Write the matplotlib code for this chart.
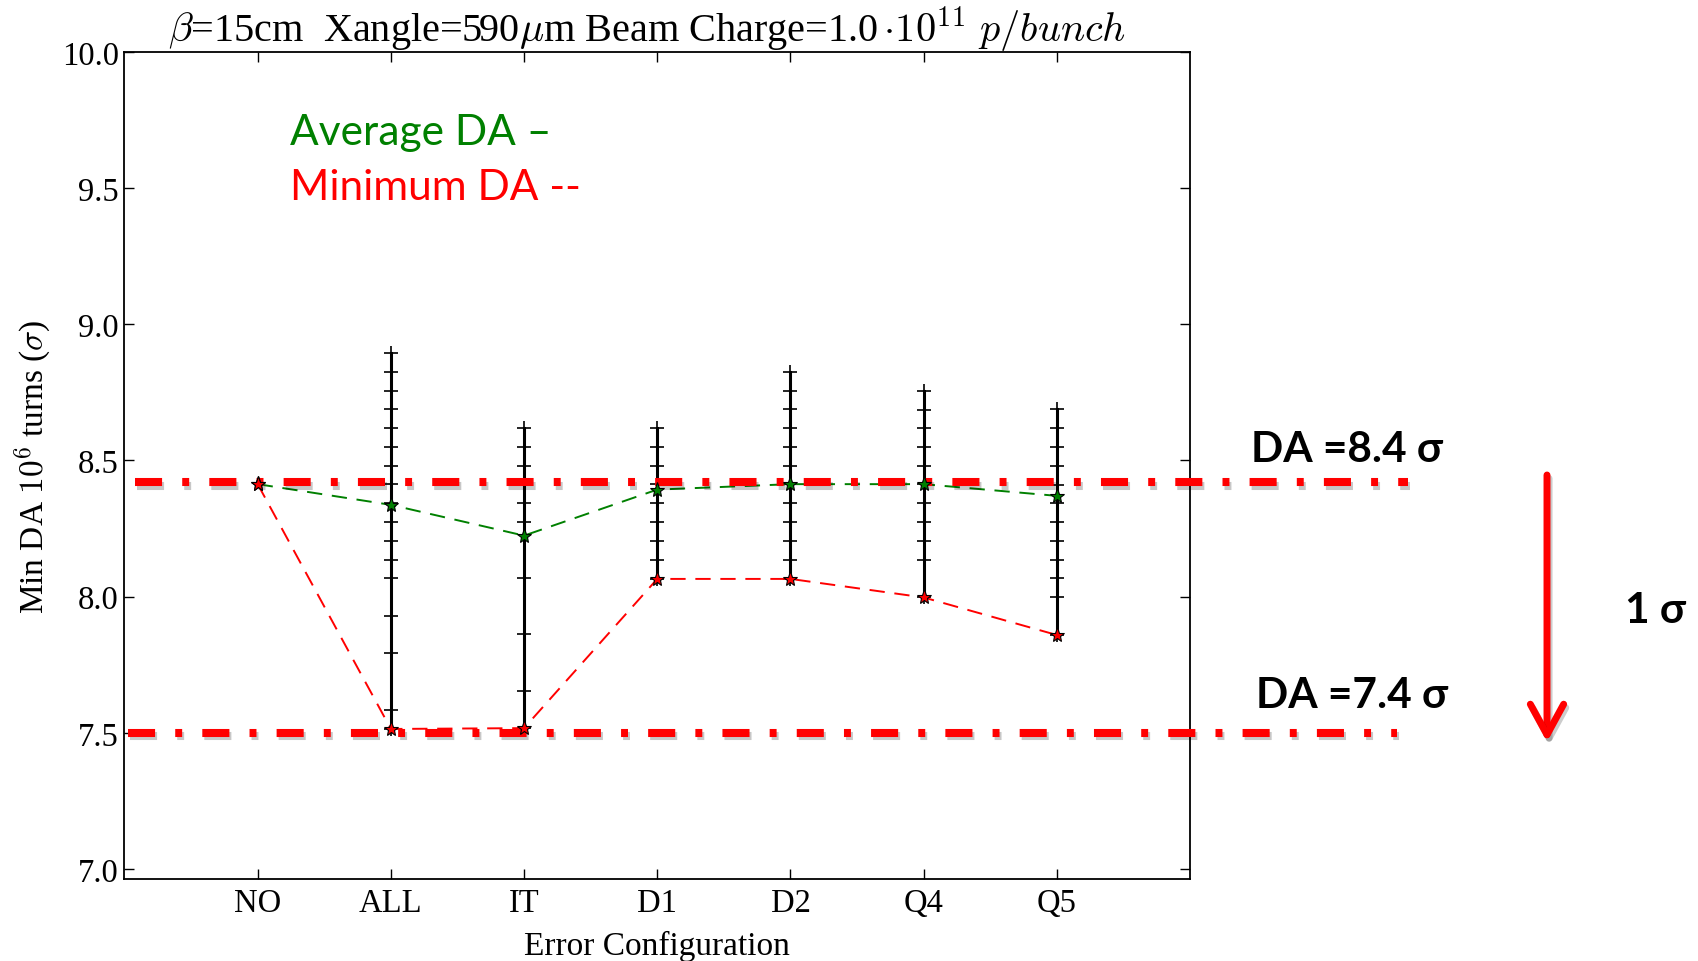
import matplotlib
matplotlib.use("Agg")
import matplotlib.pyplot as plt
from matplotlib import patheffects as pe
from matplotlib.lines import Line2D
from matplotlib.patches import FancyArrowPatch
from matplotlib.transforms import blended_transform_factory
from matplotlib.ticker import FormatStrFormatter, MultipleLocator

plt.rcParams["font.family"] = "serif"
plt.rcParams["font.serif"] = ["Liberation Serif", "DejaVu Serif"]
plt.rcParams["mathtext.fontset"] = "cm"
plt.rcParams["lines.scale_dashes"] = False

# ---- data -------------------------------------------------------------
configs = ["NO", "ALL", "IT", "D1", "D2", "Q4", "Q5"]
avg_da = [8.413, 8.337, 8.224, 8.393, 8.413, 8.413, 8.370]
min_da = [8.413, 7.514, 7.517, 8.065, 8.065, 7.997, 7.859]

# DA of the individual seeds for each error configuration
seeds_all = [8.895, 8.826, 8.756, 8.688, 8.619, 8.551, 8.481, 8.412, 8.344,
             8.275, 8.205, 8.136, 8.067, 7.930, 7.793, 7.585, 7.514]
seeds_it = [8.619, 8.551, 8.481, 8.412, 8.344, 8.275, 8.067, 7.861, 7.655, 7.517]
seeds_d1 = [8.618, 8.548, 8.481, 8.413, 8.344, 8.275, 8.205, 8.136, 8.065]
seeds_d2 = [8.826, 8.756, 8.688, 8.618, 8.548, 8.481, 8.412, 8.344, 8.275,
            8.205, 8.136, 8.065]
seeds_q4 = [8.756, 8.687, 8.618, 8.551, 8.481, 8.413, 8.344, 8.275, 8.205,
            8.136, 7.997]
seeds_q5 = [8.689, 8.619, 8.551, 8.481, 8.410, 8.344, 8.275, 8.205, 8.136,
            8.067, 7.997, 7.859]

da_ref_high = 8.42
da_ref_low = 7.50

# ---- figure -----------------------------------------------------------
W, H = 1698, 962
fig = plt.figure(figsize=(W / 100, H / 100), dpi=100)
ax = fig.add_axes([124.5 / W, 82 / H, (1190 - 124.5) / W, (880 - 53) / H])

xs = list(range(1, len(configs) + 1))
seed_sets = [seeds_all, seeds_it, seeds_d1, seeds_d2, seeds_q4, seeds_q5]
for x, vals in zip(xs[1:], seed_sets):
    ax.plot([x] * len(vals), vals, color="black", lw=2.2, marker="+",
            ms=10.5, mew=1.2, zorder=2)

ax.plot(xs, avg_da, color="green", ls="--", dashes=(11, 7), lw=1.4, zorder=3)
ax.plot(xs, min_da, color="red", ls="--", dashes=(11, 7), lw=1.4, zorder=3)

# reference DA levels, running past the frame
blend = blended_transform_factory(fig.transFigure, ax.transData)
shadow = [pe.SimpleLineShadow(offset=(1.5, -2.5), shadow_color="black", alpha=0.22),
          pe.Normal()]
for y, x0, x1 in [(da_ref_high, 135, 1408), (da_ref_low, 128, 1397)]:
    ln = Line2D([x0 / W, x1 / W], [y, y], transform=blend, color="red",
                lw=5.8, dashes=(19.5, 14.5, 5, 14.5), dash_capstyle="butt",
                clip_on=False, zorder=4, path_effects=shadow)
    ax.add_line(ln)

ax.plot(xs, avg_da, ls="none", marker="*", ms=11, mfc="green", mec="black",
        mew=0.8, zorder=6)
ax.plot(xs, min_da, ls="none", marker="*", ms=11, mfc="red", mec="black",
        mew=0.8, zorder=6)

ax.set_xlim(0, 8)
ax.set_ylim(6.963, 10.0)
ax.set_xticks(xs)
ax.set_xticklabels(configs)
ax.yaxis.set_major_locator(MultipleLocator(0.5))
ax.yaxis.set_major_formatter(FormatStrFormatter("%.1f"))
ax.tick_params(direction="in", length=7, width=1, top=True, right=True,
               labelsize=23.5)
ax.tick_params(axis="x", pad=6)
ax.tick_params(axis="y", pad=4)
for s in ax.spines.values():
    s.set_linewidth(1.3)

ax.set_xlabel("Error Configuration", fontsize=24, labelpad=9)
ax.set_ylabel(r"Min DA $10^6$ turns ($\sigma$)", fontsize=24, labelpad=6)
ax.set_title(r"$\beta$=15cm  Xangle=590$\mu$m Beam Charge=1.0$\,{\cdot}10^{11}\ p/bunch$",
             fontsize=29, pad=8, x=0.49)

# ---- annotations ------------------------------------------------------
sans = ["Lato", "DejaVu Sans"]


def ftext(x, y, s, **kw):
    fig.text(x / W, 1 - y / H, s, va="baseline", ha="left", family=sans, **kw)


ftext(290, 145, "Average DA \u2013", color="green", fontsize=30.5)
ftext(290, 200, "Minimum DA --", color="red", fontsize=30.5)
ftext(1251, 462, "DA =8.4 \u03c3", color="black", fontsize=30.5, weight="bold")
ftext(1256, 708, "DA =7.4 \u03c3", color="black", fontsize=30.5, weight="bold")
ftext(1625, 623, "1 \u03c3", color="black", fontsize=30.5, weight="bold")

arrow = FancyArrowPatch((1547 / W, 1 - 476 / H), (1547 / W, 1 - 743 / H),
                        transform=fig.transFigure,
                        arrowstyle="->,head_length=1.1,head_width=0.6",
                        mutation_scale=20, lw=5, color="red",
                        shrinkA=0, shrinkB=0,
                        path_effects=[pe.SimpleLineShadow(offset=(1.5, -2.5),
                                                          shadow_color="black",
                                                          alpha=0.2),
                                      pe.Normal()])
fig.add_artist(arrow)

fig.savefig("out.png", dpi=100)
